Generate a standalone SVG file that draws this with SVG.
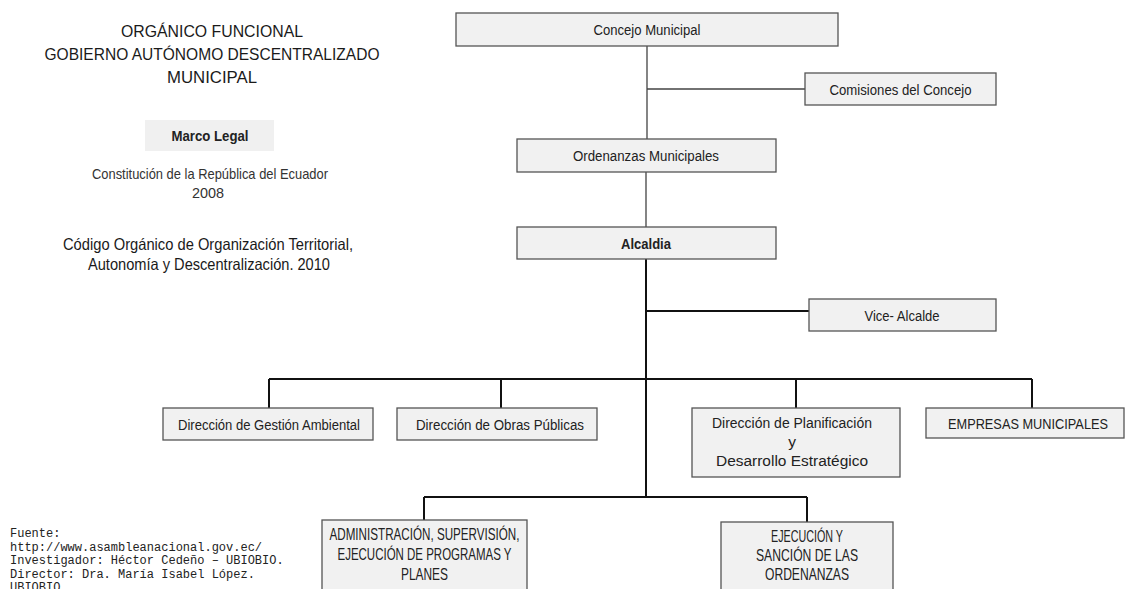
<svg xmlns="http://www.w3.org/2000/svg" width="1126" height="589" viewBox="0 0 1126 589">
<style>
  text { font-family: "Liberation Sans Narrow", "Liberation Sans", Arial, sans-serif; fill: #222; text-anchor: middle; }
  .box { fill: #f1f1f1; stroke: #555; stroke-width: 1.3; }
  .lbl { font-size: 15.5px; }
  .big { font-size: 16.5px; }
  .b { font-weight: bold; }
  .title { font-size: 16.5px; fill: #1a1a1a; }
  .legal { font-size: 14.5px; fill: #333; }
  .mono { font-family: "Liberation Mono", "Courier New", monospace; font-size: 12px; text-anchor: start; fill: #222; }
  .thin { stroke: #444; stroke-width: 1.3; fill: none; }
  .thick { stroke: #111; stroke-width: 2; fill: none; }
</style>
<rect width="1126" height="589" fill="#fff"/>

<g id="header">
  <text class="title" x="212" y="37" textLength="182" lengthAdjust="spacingAndGlyphs">ORGÁNICO FUNCIONAL</text>
  <text class="title" x="212" y="60" textLength="335" lengthAdjust="spacingAndGlyphs">GOBIERNO AUTÓNOMO DESCENTRALIZADO</text>
  <text class="title" x="212" y="83" textLength="90" lengthAdjust="spacingAndGlyphs">MUNICIPAL</text>
</g>

<g id="marco-legal">
  <rect x="145" y="120" width="129" height="31" fill="#f0f0f0"/>
  <text class="lbl b" x="210" y="141" textLength="77" lengthAdjust="spacingAndGlyphs">Marco Legal</text>
  <text class="legal" x="210" y="179" textLength="236" lengthAdjust="spacingAndGlyphs">Constitución de la República del Ecuador</text>
  <text class="legal" x="208" y="198" textLength="32" lengthAdjust="spacingAndGlyphs">2008</text>
  <text class="title" x="208" y="250" textLength="290" lengthAdjust="spacingAndGlyphs">Código Orgánico  de Organización Territorial,</text>
  <text class="title" x="209" y="270" textLength="242" lengthAdjust="spacingAndGlyphs">Autonomía y Descentralización. 2010</text>
</g>

<g id="fuente">
  <text class="mono" x="10" y="537">Fuente:</text>
  <text class="mono" x="10" y="550.5">http://www.asambleanacional.gov.ec/</text>
  <text class="mono" x="10" y="564">Investigador: Héctor Cedeño – UBIOBIO.</text>
  <text class="mono" x="10" y="577.5">Director: Dra. María Isabel López.</text>
  <text class="mono" x="10" y="591">UBIOBIO</text>
</g>

<g id="connectors">
  <path class="thin" d="M647 46 V139 M647 89 H805 M646 172 V227"/>
  <path class="thick" d="M646 259 V497 M646 311 H809 M269 379 H1032 M269 379 V408 M501 379 V408 M796 379 V408 M1032 379 V408 M424 497 H807 M424 497 V520 M807 497 V522"/>
</g>

<g id="concejo">
  <rect class="box" x="456" y="13" width="382" height="33"/>
  <text class="lbl" x="647" y="35" textLength="107" lengthAdjust="spacingAndGlyphs">Concejo Municipal</text>
</g>
<g id="comisiones">
  <rect class="box" x="805" y="73" width="191" height="32"/>
  <text class="lbl" x="900.5" y="94.5" textLength="142" lengthAdjust="spacingAndGlyphs">Comisiones del Concejo</text>
</g>
<g id="ordenanzas">
  <rect class="box" x="517" y="139" width="259" height="33"/>
  <text class="lbl" x="646" y="161" textLength="146" lengthAdjust="spacingAndGlyphs">Ordenanzas Municipales</text>
</g>
<g id="alcaldia">
  <rect class="box" x="517" y="227" width="259" height="32"/>
  <text class="lbl b" x="646" y="248.5" textLength="50" lengthAdjust="spacingAndGlyphs">Alcaldia</text>
</g>
<g id="vice-alcalde">
  <rect class="box" x="809" y="299" width="187" height="32"/>
  <text class="lbl" x="902" y="320.5" textLength="75" lengthAdjust="spacingAndGlyphs">Vice- Alcalde</text>
</g>
<g id="gestion-ambiental">
  <rect class="box" x="163" y="408" width="210" height="32"/>
  <text class="lbl" x="269" y="429.5" textLength="182" lengthAdjust="spacingAndGlyphs">Dirección de Gestión Ambiental</text>
</g>
<g id="obras-publicas">
  <rect class="box" x="397" y="408" width="200" height="32"/>
  <text class="lbl" x="500" y="429.5" textLength="168" lengthAdjust="spacingAndGlyphs">Dirección de  Obras Públicas</text>
</g>
<g id="planificacion">
  <rect class="box" x="692" y="408" width="208" height="69"/>
  <text class="lbl" x="792" y="428" textLength="160" lengthAdjust="spacingAndGlyphs">Dirección de  Planificación</text>
  <text class="lbl" x="792" y="447">y</text>
  <text class="lbl" x="792" y="466" textLength="152" lengthAdjust="spacingAndGlyphs">Desarrollo Estratégico</text>
</g>
<g id="empresas">
  <rect class="box" x="926" y="408" width="198" height="30"/>
  <text class="lbl" x="1028" y="428.5" textLength="160" lengthAdjust="spacingAndGlyphs">EMPRESAS MUNICIPALES</text>
</g>
<g id="administracion">
  <rect class="box" x="322" y="520" width="205" height="80"/>
  <text class="big" x="424.5" y="540" textLength="190" lengthAdjust="spacingAndGlyphs">ADMINISTRACIÓN,  SUPERVISIÓN,</text>
  <text class="big" x="424.5" y="560" textLength="174" lengthAdjust="spacingAndGlyphs">EJECUCIÓN DE PROGRAMAS Y</text>
  <text class="big" x="424.5" y="580" textLength="47" lengthAdjust="spacingAndGlyphs">PLANES</text>
</g>
<g id="ejecucion">
  <rect class="box" x="721" y="522" width="172" height="80"/>
  <text class="big" x="807" y="542" textLength="72" lengthAdjust="spacingAndGlyphs">EJECUCIÓN Y</text>
  <text class="big" x="807" y="561" textLength="102" lengthAdjust="spacingAndGlyphs">SANCIÓN DE LAS</text>
  <text class="big" x="807" y="580" textLength="84" lengthAdjust="spacingAndGlyphs">ORDENANZAS</text>
</g>
</svg>
